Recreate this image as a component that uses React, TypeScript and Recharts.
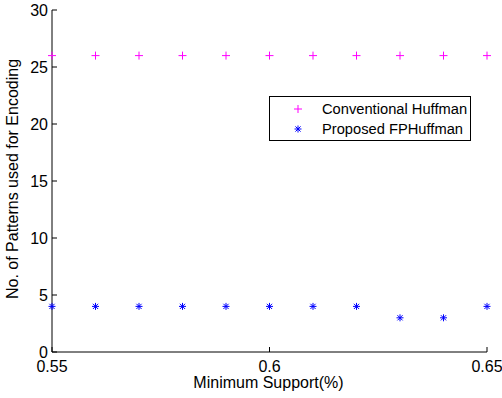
import React from 'react';
import { ScatterChart, Scatter, XAxis, YAxis, Legend } from 'recharts';

const supportValues = [0.55, 0.56, 0.57, 0.58, 0.59, 0.6, 0.61, 0.62, 0.63, 0.64, 0.65];
const conventionalHuffman = [26, 26, 26, 26, 26, 26, 26, 26, 26, 26, 26];
const proposedFPHuffman = [4, 4, 4, 4, 4, 4, 4, 4, 3, 3, 4];
const xTicks = [0.55, 0.6, 0.65];
const yTicks = [0, 5, 10, 15, 20, 25, 30];

const FONT = '"Liberation Sans", Arial, Helvetica, sans-serif';
const MAGENTA = '#ff00ff';
const BLUE = '#0000ff';

const conventionalData = supportValues.map((x, i) => ({ x, y: conventionalHuffman[i] }));
const proposedData = supportValues.map((x, i) => ({ x, y: proposedFPHuffman[i] }));

function PlusMark({ cx, cy }: { cx?: number; cy?: number }) {
  if (cx == null || cy == null) return null;
  const r = 4;
  return (
    <g stroke={MAGENTA} strokeWidth={1}>
      <line x1={cx - r} y1={cy} x2={cx + r} y2={cy} />
      <line x1={cx} y1={cy - r} x2={cx} y2={cy + r} />
    </g>
  );
}

function StarMark({ cx, cy }: { cx?: number; cy?: number }) {
  if (cx == null || cy == null) return null;
  const r = 3.5;
  const d = 2.6;
  return (
    <g stroke={BLUE} strokeWidth={1}>
      <line x1={cx - r} y1={cy} x2={cx + r} y2={cy} />
      <line x1={cx} y1={cy - r} x2={cx} y2={cy + r} />
      <line x1={cx - d} y1={cy - d} x2={cx + d} y2={cy + d} />
      <line x1={cx - d} y1={cy + d} x2={cx + d} y2={cy - d} />
    </g>
  );
}

function YLabel(props: any) {
  const { x, y, height } = props.viewBox;
  const lx = x + 12.5;
  const ly = y + height / 2 - 2;
  return (
    <text
      x={lx}
      y={ly}
      dy="0.355em"
      transform={`rotate(-90 ${lx} ${ly})`}
      textAnchor="middle"
      fontSize={16}
      fontFamily={FONT}
      fill="#000"
    >
      No. of Patterns used for Encoding
    </text>
  );
}

function XLabel(props: any) {
  const { x, y, width } = props.viewBox;
  return (
    <text
      x={x + width / 2 - 1}
      y={y + 36}
      textAnchor="middle"
      fontSize={16}
      fontFamily={FONT}
      fill="#000"
    >
      Minimum Support(%)
    </text>
  );
}

function LegendBox() {
  const rows = [
    { label: 'Conventional Huffman', Mark: PlusMark },
    { label: 'Proposed FPHuffman', Mark: StarMark },
  ];
  return (
    <div
      style={{
        width: 202,
        height: 45,
        boxSizing: 'border-box',
        border: '1px solid #000',
        background: '#fff',
        paddingTop: 2,
        fontFamily: FONT,
        fontSize: 14.7,
        color: '#000',
      }}
    >
      {rows.map(({ label, Mark }) => (
        <div key={label} style={{ display: 'flex', alignItems: 'center', height: 20 }}>
          <svg width={52} height={20} style={{ flex: 'none' }}>
            <Mark cx={28} cy={10} />
          </svg>
          <span style={{ whiteSpace: 'nowrap' }}>{label}</span>
        </div>
      ))}
    </div>
  );
}

export default function App() {
  return (
    <div style={{ position: 'absolute', left: 0, top: 0, background: '#fff' }}>
      <ScatterChart width={502} height={398} margin={{ top: 10, right: 15, bottom: 0, left: 0 }}>
        <XAxis
          type="number"
          dataKey="x"
          domain={[0.55, 0.65]}
          ticks={xTicks}
          tickFormatter={(v: number) => String(v)}
          height={46}
          tickSize={-5}
          tickMargin={14}
          stroke="#000"
          tick={{ fill: '#000', fontSize: 16, fontFamily: FONT }}
          label={<XLabel />}
        />
        <YAxis
          type="number"
          dataKey="y"
          domain={[0, 30]}
          ticks={yTicks}
          width={52}
          tickSize={-5}
          tickMargin={9}
          stroke="#000"
          tick={{ fill: '#000', fontSize: 16, fontFamily: FONT }}
          label={<YLabel />}
        />
        <Legend
          layout="horizontal"
          verticalAlign="middle"
          align="center"
          wrapperStyle={{ left: 269, top: 96, width: 202, height: 45 }}
          content={() => <LegendBox />}
        />
        <Scatter
          name="Conventional Huffman"
          data={conventionalData}
          shape={(p: any) => <PlusMark cx={p.cx} cy={p.cy} />}
          isAnimationActive={false}
        />
        <Scatter
          name="Proposed FPHuffman"
          data={proposedData}
          shape={(p: any) => <StarMark cx={p.cx} cy={p.cy} />}
          isAnimationActive={false}
        />
      </ScatterChart>
    </div>
  );
}
